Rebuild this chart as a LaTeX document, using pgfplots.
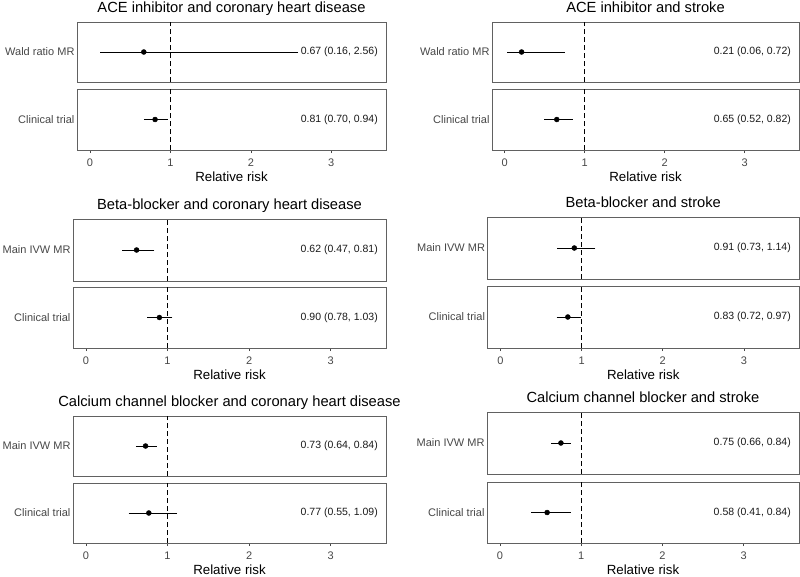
\documentclass[border=0pt]{standalone}
\usepackage{fontspec}
\setmainfont{Liberation Sans}
\usepackage{pgfplots}
\pgfplotsset{compat=1.18}
\definecolor{boxc}{gray}{0.38}
\definecolor{labc}{gray}{0.28}
\pgfplotsset{
  every axis title shift=0pt,
  facet/.style={
    scale only axis,
    xmin=-0.16, xmax=3.68, ymin=0, ymax=1,
    axis line style={boxc, line width=0.8pt},
    ytick={0.5},
    y tick label style={font=\fontsize{11}{13}\selectfont, text=labc},
    x tick label style={font=\fontsize{11}{13}\selectfont, text=labc, yshift=-2.5pt},
    ytick style={draw=none},
    xtick={0,1,2,3},
    tick align=outside,
    xtick pos=bottom,
    major tick length=3pt,
    xtick style={labc, line width=0.6pt},
    yticklabel style={xshift=4pt},
    /pgf/number format/assume math mode=true,
  },
  topfacet/.style={facet, xticklabels={}, xtick style={draw=none},
    title style={font=\fontsize{14.7}{17}\selectfont, anchor=base, at={(axis description cs:0.5,1)}, yshift=10pt}},
  botfacet/.style={facet, xlabel={Relative risk},
    xlabel style={font=\fontsize{13.3}{15}\selectfont, anchor=base, at={(axis description cs:0.5,0)}, yshift=-31.5pt}},
  fp/.style={only marks, mark=*, black, mark size=2.5pt,
    error bars/.cd, x dir=both, x explicit,
    error bar style={line width=1pt, black},
    error mark options={line width=0.85pt, mark size=2.3pt}},
  vl/.style={black, dashed, dash pattern=on 5pt off 3pt, line width=0.9pt, forget plot},
}
\newcommand{\est}[1]{\node[anchor=east, font=\fontsize{10.5}{12}\selectfont, text=black!90] at (rel axis cs:0.985,0.5) {#1};}
\begin{document}
\begin{tikzpicture}
\useasboundingbox (0,0) rectangle (800pt,-576pt);
% ---------- Row 1 left
\begin{axis}[topfacet, at={(77pt,-22pt)}, anchor=north west, width=309pt, height=60pt,
  title={ACE inhibitor and coronary heart disease}, yticklabels={Wald ratio MR}]
\addplot[vl] coordinates {(1,0) (1,1)};
\addplot[fp] coordinates {(0.67,0.5) -= (0.51,0) += (1.89,0)};
\est{0.67 (0.16, 2.56)}
\end{axis}
\begin{axis}[botfacet, at={(77pt,-89pt)}, anchor=north west, width=309pt, height=61pt,
  yticklabels={Clinical trial}]
\addplot[vl] coordinates {(1,0) (1,1)};
\addplot[fp] coordinates {(0.81,0.5) -= (0.11,0) += (0.13,0)};
\est{0.81 (0.70, 0.94)}
\end{axis}
% ---------- Row 1 right
\begin{axis}[topfacet, at={(492pt,-22pt)}, anchor=north west, width=307pt, height=60pt,
  title={ACE inhibitor and stroke}, yticklabels={Wald ratio MR}]
\addplot[vl] coordinates {(1,0) (1,1)};
\addplot[fp] coordinates {(0.21,0.5) -= (0.15,0) += (0.51,0)};
\est{0.21 (0.06, 0.72)}
\end{axis}
\begin{axis}[botfacet, at={(492pt,-89pt)}, anchor=north west, width=307pt, height=61pt,
  yticklabels={Clinical trial}]
\addplot[vl] coordinates {(1,0) (1,1)};
\addplot[fp] coordinates {(0.65,0.5) -= (0.13,0) += (0.17,0)};
\est{0.65 (0.52, 0.82)}
\end{axis}
% ---------- Row 2 left
\begin{axis}[topfacet, at={(73pt,-219pt)}, anchor=north west, width=313pt, height=62pt,
  title={Beta-blocker and coronary heart disease}, yticklabels={Main IVW MR}]
\addplot[vl] coordinates {(1,0) (1,1)};
\addplot[fp] coordinates {(0.62,0.5) -= (0.15,0) += (0.19,0)};
\est{0.62 (0.47, 0.81)}
\end{axis}
\begin{axis}[botfacet, at={(73pt,-287pt)}, anchor=north west, width=313pt, height=61pt,
  yticklabels={Clinical trial}]
\addplot[vl] coordinates {(1,0) (1,1)};
\addplot[fp] coordinates {(0.90,0.5) -= (0.12,0) += (0.13,0)};
\est{0.90 (0.78, 1.03)}
\end{axis}
% ---------- Row 2 right
\begin{axis}[topfacet, at={(487.5pt,-217pt)}, anchor=north west, width=311.5pt, height=62pt,
  title={Beta-blocker and stroke}, yticklabels={Main IVW MR}]
\addplot[vl] coordinates {(1,0) (1,1)};
\addplot[fp] coordinates {(0.91,0.5) -= (0.18,0) += (0.23,0)};
\est{0.91 (0.73, 1.14)}
\end{axis}
\begin{axis}[botfacet, at={(487.5pt,-286pt)}, anchor=north west, width=311.5pt, height=62pt,
  yticklabels={Clinical trial}]
\addplot[vl] coordinates {(1,0) (1,1)};
\addplot[fp] coordinates {(0.83,0.5) -= (0.11,0) += (0.14,0)};
\est{0.83 (0.72, 0.97)}
\end{axis}
% ---------- Row 3 left
\begin{axis}[topfacet, at={(73pt,-416pt)}, anchor=north west, width=313pt, height=60pt,
  title={Calcium channel blocker and coronary heart disease}, yticklabels={Main IVW MR}]
\addplot[vl] coordinates {(1,0) (1,1)};
\addplot[fp] coordinates {(0.73,0.5) -= (0.09,0) += (0.11,0)};
\est{0.73 (0.64, 0.84)}
\end{axis}
\begin{axis}[botfacet, at={(73pt,-483pt)}, anchor=north west, width=313pt, height=60pt,
  yticklabels={Clinical trial}]
\addplot[vl] coordinates {(1,0) (1,1)};
\addplot[fp] coordinates {(0.77,0.5) -= (0.22,0) += (0.32,0)};
\est{0.77 (0.55, 1.09)}
\end{axis}
% ---------- Row 3 right
\begin{axis}[topfacet, at={(487pt,-412pt)}, anchor=north west, width=312pt, height=62pt,
  title={Calcium channel blocker and stroke}, yticklabels={Main IVW MR}]
\addplot[vl] coordinates {(1,0) (1,1)};
\addplot[fp] coordinates {(0.75,0.5) -= (0.09,0) += (0.09,0)};
\est{0.75 (0.66, 0.84)}
\end{axis}
\begin{axis}[botfacet, at={(487pt,-482pt)}, anchor=north west, width=312pt, height=61pt,
  yticklabels={Clinical trial}]
\addplot[vl] coordinates {(1,0) (1,1)};
\addplot[fp] coordinates {(0.58,0.5) -= (0.17,0) += (0.26,0)};
\est{0.58 (0.41, 0.84)}
\end{axis}
\end{tikzpicture}
\end{document}
